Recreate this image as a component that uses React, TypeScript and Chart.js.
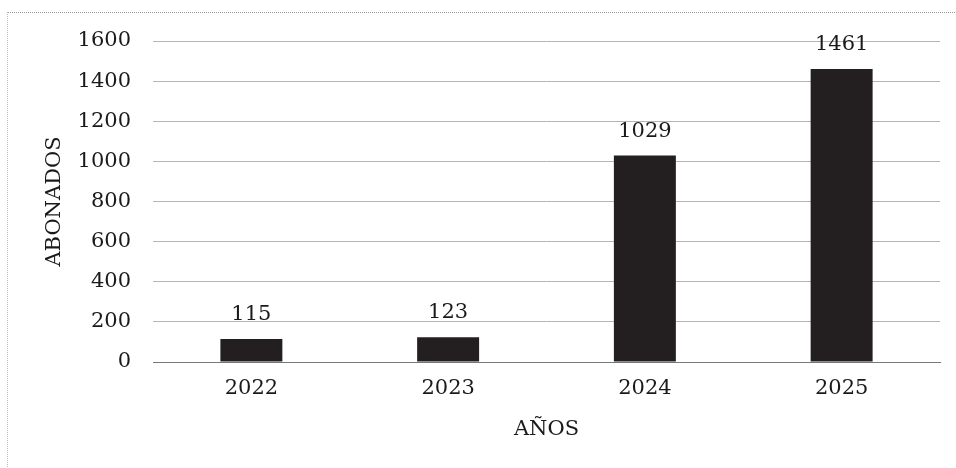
import React, { useEffect, useRef } from "react";
import { Chart, registerables } from "chart.js";

Chart.register(...registerables);

const categories = ["2022", "2023", "2024", "2025"];
const abonados = [115, 123, 1029, 1461];
const yTicks = [0, 200, 400, 600, 800, 1000, 1200, 1400, 1600];

const FONT = "'DejaVu Serif', 'Liberation Serif', serif";

const valueLabels = {
  id: "valueLabels",
  afterDatasetsDraw(chart: any) {
    const ctx = chart.ctx;
    const meta = chart.getDatasetMeta(0);
    ctx.save();
    ctx.font = `21px ${FONT}`;
    ctx.fillStyle = "#1a1a1a";
    ctx.textAlign = "center";
    ctx.textBaseline = "alphabetic";
    meta.data.forEach((bar: any, i: number) => {
      ctx.fillText(String(chart.data.datasets[0].data[i]), bar.x, bar.y - 19);
    });
    ctx.restore();
  },
};

export default function App() {
  const ref = useRef<HTMLCanvasElement | null>(null);
  useEffect(() => {
    if (!ref.current) return;
    const chart = new Chart(ref.current, {
      type: "bar",
      data: {
        labels: categories,
        datasets: [
          {
            data: abonados,
            backgroundColor: "#231f20",
            borderWidth: 0,
            barPercentage: 0.315,
            categoryPercentage: 1,
          },
        ],
      },
      options: {
        animation: false,
        responsive: false,
        maintainAspectRatio: false,
        layout: { padding: { left: 38, right: 16, top: 41, bottom: 20 } },
        plugins: { legend: { display: false }, tooltip: { enabled: false } },
        scales: {
          x: {
            afterFit(scale: any) {
              scale.height = 86;
            },
            grid: { display: false },
            border: { display: true, color: "#777", width: 1 },
            ticks: { color: "#1a1a1a", font: { family: FONT, size: 21 }, padding: 6, maxRotation: 0 },
            title: {
              display: true,
              text: "AÑOS",
              color: "#1a1a1a",
              font: { family: FONT, size: 21 },
              padding: { top: 6, bottom: 6 },
            },
          },
          y: {
            min: 0,
            max: 1600,
            afterFit(scale: any) {
              scale.width = 115;
            },
            afterBuildTicks(scale: any) {
              scale.ticks = yTicks.map((v) => ({ value: v }));
            },
            grid: { color: "#b5b5b5", lineWidth: 1, drawTicks: false },
            border: { display: false },
            ticks: {
              color: "#1a1a1a",
              font: { family: FONT, size: 21 },
              padding: 22,
              callback: (v: any) => String(v),
            },
            title: {
              display: true,
              text: "ABONADOS",
              color: "#1a1a1a",
              font: { family: FONT, size: 21 },
              padding: { top: 4, bottom: 4 },
            },
          },
        },
      },
      plugins: [valueLabels],
    });
    return () => chart.destroy();
  }, []);
  return (
    <div style={{ position: "absolute", left: 0, top: 0, width: 956, height: 468, background: "#fff" }}>
      <div
        style={{
          position: "absolute",
          left: 7,
          top: 12,
          width: 949,
          height: 456,
          borderTop: "1px dotted #999",
          borderLeft: "1px dotted #bbb",
        }}
      />
      <canvas ref={ref} width={956} height={468} style={{ position: "absolute", left: 0, top: 0 }} />
    </div>
  );
}
